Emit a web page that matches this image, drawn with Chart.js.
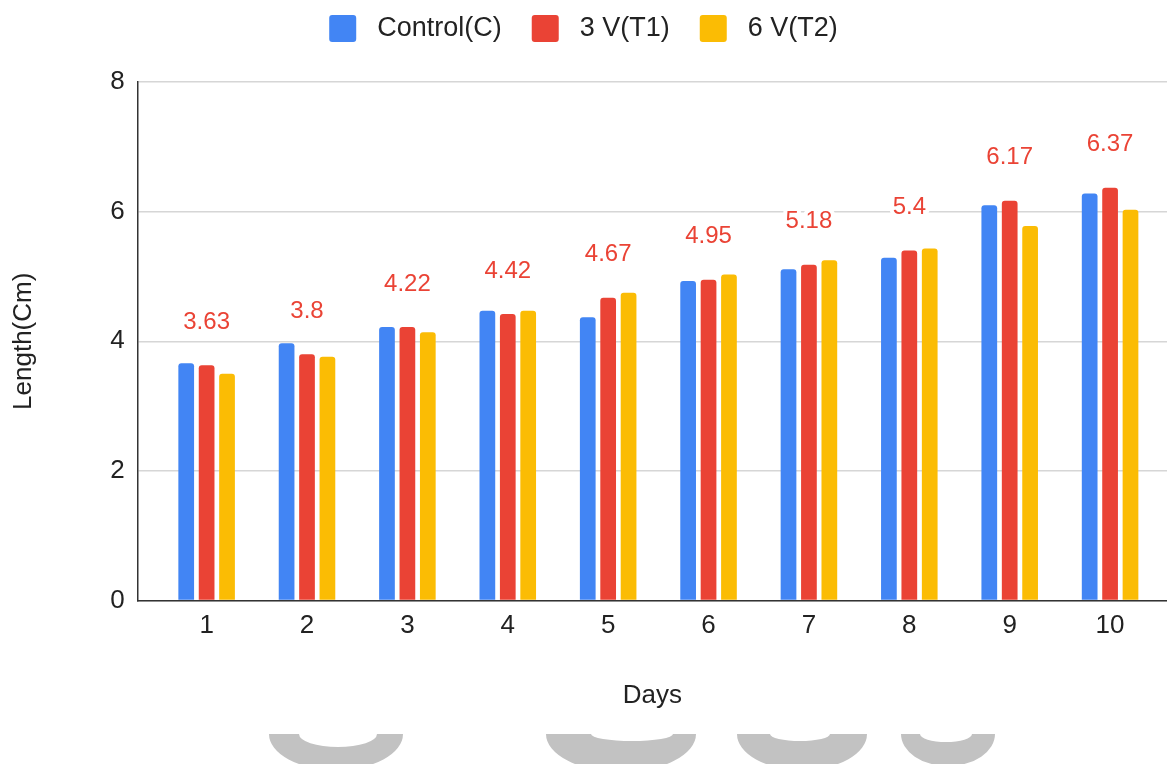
<!DOCTYPE html>
<html lang="en">
<head>
<meta charset="UTF-8">
<title>Length by day</title>
<script src="https://cdn.jsdelivr.net/npm/chart.js"></script>
<style>
  html, body { margin: 0; padding: 0; background: #fff; }
  #wrap { width: 1167px; height: 764px; }
</style>
</head>
<body>
<div id="wrap"><canvas id="grafica" width="1167" height="764"></canvas></div>
<script>
// datos
const days = ['1', '2', '3', '4', '5', '6', '7', '8', '9', '10'];
const seriesNames = ['Control(C)', '3 V(T1)', '6 V(T2)'];
const control = [3.66, 3.97, 4.22, 4.47, 4.37, 4.93, 5.11, 5.29, 6.10, 6.28];
const t1 = [3.63, 3.8, 4.22, 4.42, 4.67, 4.95, 5.18, 5.4, 6.17, 6.37];
const t2 = [3.50, 3.76, 4.14, 4.47, 4.75, 5.03, 5.25, 5.43, 5.78, 6.03];
const yTicks = [0, 2, 4, 6, 8];

const colores = ['#4285f4', '#ea4335', '#fbbc04'];
const familia = "'Liberation Sans', Arial, sans-serif";
const fuente = { family: familia, size: 26 };
const texto = '#222';

function puntos(valores) {
  return valores.map((v, i) => ({ x: i + 1, y: v }));
}

// etiquetas rojas encima de la serie 3 V(T1)
const etiquetas = {
  id: 'etiquetas',
  afterDatasetsDraw(chart) {
    const ctx = chart.ctx;
    const meta = chart.getDatasetMeta(1);
    const y = chart.scales.y;
    ctx.save();
    ctx.font = '24px ' + familia;
    ctx.textAlign = 'center';
    ctx.textBaseline = 'middle';
    ctx.lineJoin = 'round';
    ctx.lineWidth = 8;
    ctx.strokeStyle = '#fff';
    ctx.fillStyle = '#ea4335';
    meta.data.forEach((bar, i) => {
      const py = y.getPixelForValue(t1[i]) - 43;
      ctx.strokeText(String(t1[i]), bar.x, py);
      ctx.fillText(String(t1[i]), bar.x, py);
    });
    ctx.restore();
  }
};

// fondo blanco y marca de agua gris abajo
const marca = {
  id: 'marca',
  beforeDraw(chart) {
    const ctx = chart.ctx;
    ctx.save();
    ctx.fillStyle = '#fff';
    ctx.fillRect(0, 0, chart.width, chart.height);
    ctx.beginPath();
    ctx.rect(0, 734, chart.width, 30);
    ctx.clip();
    ctx.fillStyle = '#c2c2c2';
    [[336, 67, 36, 338, 39, 13], [621, 75, 38, 632, 41, 7], [802, 65, 36, 800, 30, 7], [948, 47, 32, 946, 26, 8]]
      .forEach(([cx, rx, ry, ix, irx, iry]) => {
        ctx.beginPath();
        ctx.ellipse(cx, 734, rx, ry, 0, 0, Math.PI * 2);
        ctx.moveTo(ix + irx, 734);
        ctx.ellipse(ix, 734, irx, iry, 0, 0, Math.PI * 2);
        ctx.fill('evenodd');
      });
    ctx.restore();
  }
};

const ctx = document.getElementById('grafica').getContext('2d');
new Chart(ctx, {
  type: 'bar',
  data: {
    datasets: [control, t1, t2].map((serie, k) => ({
      label: seriesNames[k],
      data: puntos(serie),
      backgroundColor: colores[k],
      borderWidth: 0,
      borderRadius: 3,
      categoryPercentage: 0.61,
      barPercentage: 0.77
    }))
  },
  options: {
    responsive: false,
    devicePixelRatio: 1,
    animation: false,
    layout: { padding: { left: 0, right: 0, top: 0, bottom: 53 } },
    plugins: {
      tooltip: { enabled: false },
      // titulo vacio: solo deja aire entre la leyenda y el grafico
      title: { display: true, text: '', weight: 500, padding: 0, font: { size: 30, lineHeight: 1 } },
      legend: {
        position: 'top',
        labels: {
          boxWidth: 27,
          boxHeight: 27,
          padding: 15,
          useBorderRadius: true,
          borderRadius: 3,
          color: texto,
          font: { family: familia, size: 27 },
          generateLabels(chart) {
            const items = Chart.defaults.plugins.legend.labels.generateLabels(chart);
            items.forEach((it, i) => {
              it.text = ' ' + it.text + (i < items.length - 1 ? '  ' : '');
              it.lineWidth = 0;
            });
            return items;
          }
        }
      }
    },
    scales: {
      x: {
        type: 'linear',
        offset: false,
        min: 0.313,
        max: 10.567,
        afterBuildTicks: s => { s.ticks = days.map((d, i) => ({ value: i + 1 })); },
        ticks: {
          callback: v => days[v - 1],
          autoSkip: false,
          maxRotation: 0,
          padding: 10,
          color: texto,
          font: fuente
        },
        grid: { color: 'transparent', drawTicks: false },
        border: { display: true, color: '#333', width: 1.5 },
        title: { display: true, text: 'Days', color: texto, font: fuente, padding: { top: 28, bottom: 0 } }
      },
      y: {
        min: 0,
        max: 8,
        afterBuildTicks: s => { s.ticks = yTicks.map(v => ({ value: v })); },
        ticks: { padding: 13, color: texto, font: fuente },
        grid: { color: '#d6d6d6', lineWidth: 1.5, drawTicks: false },
        border: { display: true, color: '#333', width: 1.5 },
        title: { display: true, text: 'Length(Cm)', color: texto, font: fuente, padding: { top: 8, bottom: 58 } }
      }
    }
  },
  plugins: [marca, etiquetas]
});
</script>
</body>
</html>
